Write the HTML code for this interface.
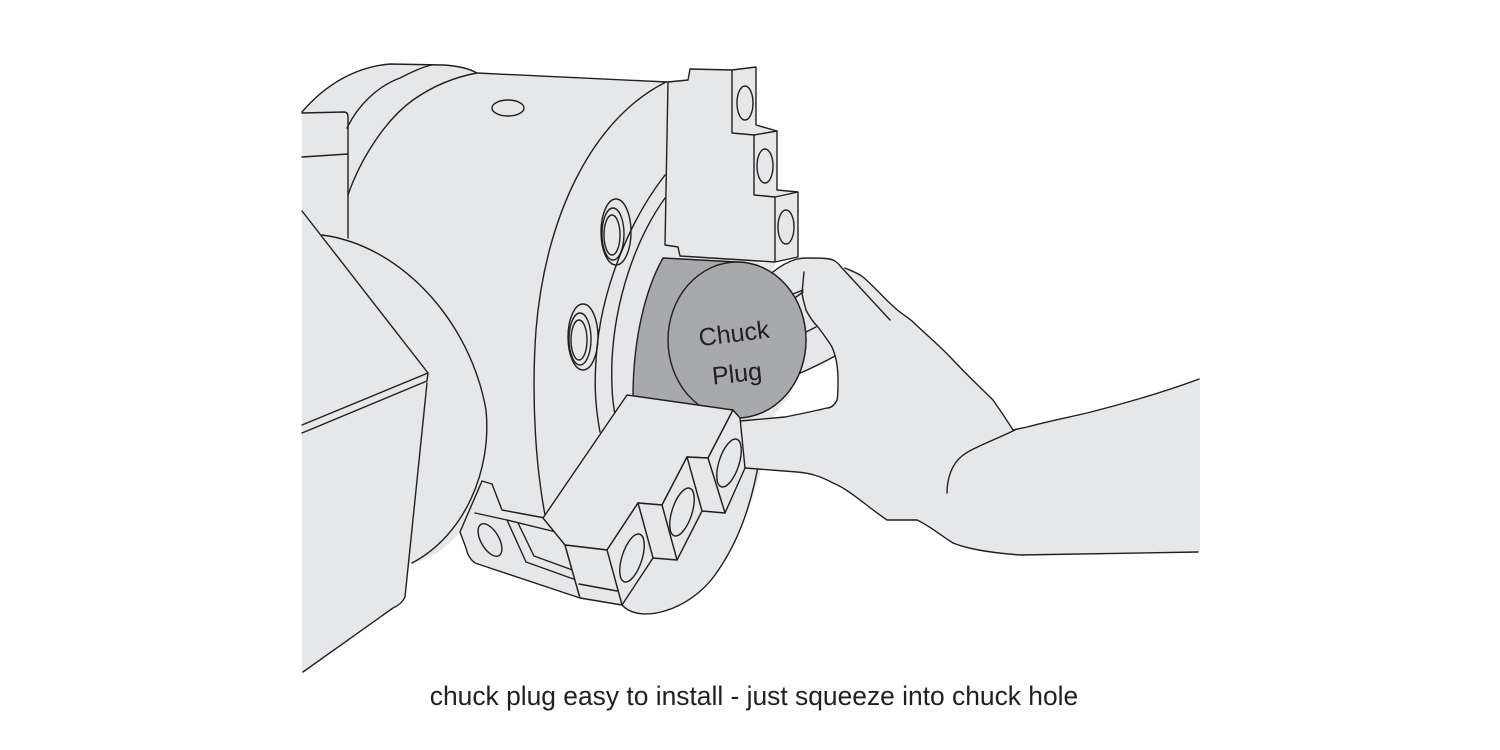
<!DOCTYPE html>
<html>
<head>
<meta charset="utf-8">
<style>
  html,body{margin:0;padding:0;background:#ffffff;}
  svg{display:block;}
  .s{fill:none;stroke:#231f20;stroke-width:1.4;stroke-linejoin:round;stroke-linecap:round;}
  .f{fill:#e6e7e8;stroke:#231f20;stroke-width:1.4;stroke-linejoin:round;}
  .d{fill:#a7a9ac;stroke:#231f20;stroke-width:1.4;stroke-linejoin:round;}
</style>
</head>
<body>
<svg width="1500" height="750" viewBox="0 0 1500 750" xmlns="http://www.w3.org/2000/svg">
  <rect x="0" y="0" width="1500" height="750" fill="#ffffff"/>

  <!-- ===== Machine body fill ===== -->
  <path fill="#e6e7e8" stroke="none" d="M302,112 C325,85 355,67 390,64 L443,65 C460,66 470,69 477,73 L667,82 L680,255 L760,262 L765,455 C752,505 738,543 715,575 C690,610 640,625 622,605 L580,598 L473,562 L460,532 C445,550 428,560 412,563 L409,563 L405,597 Q402,604 393,608 L303,672 L302,672 Z"/>

  <!-- body strokes -->
  <path class="s" d="M302,112 C325,85 355,67 390,64 L443,65 C460,66 470,69 477,73 L667,82"/>
  <path class="s" d="M347,128 C358,105 378,86 400,78 C412,72 422,67 432,65"/>
  <path class="s" d="M348,195 C360,160 385,120 413,100 C430,88 450,78 477,73"/>
  <path class="s" d="M302,113 L344,112 Q348,112 348,117 L348,238"/>
  <path class="s" d="M302,157 L348,154"/>
  <path class="s" d="M322,235 C400,245 470,320 486,410 C492,470 465,535 412,563"/>
  <path class="s" d="M302,211 L428,373"/>
  <path class="s" d="M302,425 L428,373 L427,381 L302,433"/>
  <path class="s" d="M427,383 L405,597 Q402,604 393,608 L303,672"/>
  <ellipse class="s" cx="508" cy="108" rx="16" ry="8"/>

  <!-- chuck front edge -->
  <path class="s" d="M666,82 C590,120 545,220 536,330 C531,400 536,470 546,520"/>
  <!-- flange arcs -->
  <path class="s" d="M665,175 C630,220 600,290 596,360 C594,390 596,410 600,432"/>
  <path class="s" d="M665,198 C635,240 615,300 612,360 C611,390 613,405 616,420"/>
  <path class="s" d="M622,605 C640,625 690,610 715,575 C738,543 752,505 760,455"/>

  <!-- flange holes -->
  <ellipse class="s" cx="616" cy="232" rx="15" ry="33"/>
  <ellipse class="s" cx="613" cy="234" rx="11" ry="26"/>
  <ellipse class="s" cx="612" cy="235" rx="8" ry="20"/>
  <ellipse class="s" cx="583" cy="337" rx="15" ry="33"/>
  <ellipse class="s" cx="580" cy="339" rx="11" ry="26"/>
  <ellipse class="s" cx="579" cy="340" rx="8" ry="20"/>

  <!-- ===== Hand ===== -->
  <path fill="#e6e7e8" stroke="none" d="M745,262 L775,263 L773,272 C778,268 782,265 787,263 C795,259 800,258 807,258 C818,258 828,258 833,260 C838,262 842,266 846,269 C852,271 858,273 863,277 C878,290 890,305 900,312 C905,316 910,319 913,322 C930,338 942,348 953,360 C970,378 985,392 993,400 C1000,410 1008,422 1013,430 L1027,427 C1045,422 1065,418 1087,413 C1130,402 1170,390 1200,379 L1200,552 L1020,555 C995,553 970,550 953,543 C940,535 930,526 917,520 C905,520 895,520 887,520 C865,505 850,490 833,483 C820,476 810,473 797,472 L747,468 L740,300 Z"/>
  <!-- white gap inside curl -->
  <path fill="#ffffff" stroke="none" d="M793,375 L803,372 C815,366 828,360 835,356 C838,365 839,385 837,400 C834,406 830,408 827,408 C815,411 800,414 785,417 L772,418 L790,395 Z"/>
  <!-- hand strokes -->
  <path class="s" d="M766,278 L773,272 C778,268 782,265 787,263 C795,259 800,258 807,258 C818,258 828,258 833,260 C838,262 840,266 842,268 L890,320"/>
  <path class="s" d="M845,268 C852,271 858,273 863,277 C878,290 890,305 900,312 C905,316 910,319 913,322 C930,338 942,348 953,360 C970,378 985,392 993,400 C1000,410 1008,422 1013,430 L1027,427 C1045,422 1065,418 1087,413 C1130,402 1170,390 1199,379"/>
  <path class="s" d="M745,468 L797,472 C810,473 820,476 833,483 C850,490 865,505 887,520 C895,520 905,520 917,520 C930,526 940,535 953,543 C970,550 995,553 1020,555 L1198,552"/>
  <path class="s" d="M1015,430 C990,442 972,448 962,456 C952,464 947,478 947,493"/>
  <!-- curled finger -->
  <path class="s" d="M804,272 L802,293 C803,300 805,306 806,310 C810,318 814,323 818,327 C824,335 829,342 832,347 C836,356 838,368 838,380 C838,390 838,396 837,400 C834,406 830,408 827,408 C815,411 800,414 785,417 L740,421"/>
  <path class="s" d="M788,296 L803,290"/>
  <path class="s" d="M792,300 L803,292"/>
  <path class="s" d="M800,335 L816,327"/>
  <path class="s" d="M798,374 C812,368 826,361 835,356"/>

  <!-- ===== Plug ===== -->
  <path class="d" d="M663,258 L737,262 A69,78 0 0 1 737,418 L640,440 L633,397 C633,340 645,290 663,258 Z"/>
  <ellipse class="d" cx="737" cy="340" rx="69" ry="78"/>
  <text x="734" y="342" font-family="'Liberation Sans', Arial, sans-serif" font-size="25" fill="#231f20" text-anchor="middle" transform="rotate(-7 734 334)">Chuck</text>
  <text x="737" y="382" font-family="'Liberation Sans', Arial, sans-serif" font-size="25" fill="#231f20" text-anchor="middle" transform="rotate(-6 737 374)">Plug</text>

  <!-- ===== Upper jaw ===== -->
  <path class="f" d="M668,82 L688,80 L690,69 L732,70 L756,67 L756,125 L777,131 L777,190 L798,192 L798,257 L775,262 L680,256 L678,247 L665,245 Z"/>
  <path class="s" d="M732,70 L732,133 L754,135 L777,131"/>
  <path class="s" d="M754,135 L754,195 L775,197 L798,192"/>
  <path class="s" d="M775,197 L775,262"/>
  <ellipse class="s" cx="745" cy="103" rx="8" ry="17"/>
  <ellipse class="s" cx="765" cy="166" rx="8" ry="17"/>
  <ellipse class="s" cx="786" cy="227" rx="8" ry="17"/>

  <!-- ===== Bracket ===== -->
  <path class="f" d="M482,481 L492,484 L502,510 L545,518 L565,545 L580,598 L475,563 Q468,558 466,548 L460,532 Z"/>
  <path class="s" d="M475,513 L507,520 L560,533 L565,545"/>
  <path class="s" d="M507,520 L526,562 L579,581"/>
  <path class="s" d="M518,523 L534,556 L578,572"/>
  <ellipse class="s" cx="490" cy="540" rx="9" ry="18" transform="rotate(-30 490 540)"/>

  <!-- ===== Lower jaw ===== -->
  <path class="f" d="M627,395 L733,410 L708,458 L687,457 L662,505 L638,503 L607,550 L565,545 L543,518 Z"/>
  <path class="f" d="M708,458 L733,410 L740,418 L745,468 L725,513 Z"/>
  <path class="f" d="M687,457 L708,458 L725,513 L702,511 Z"/>
  <path class="f" d="M662,505 L687,457 L702,511 L677,560 Z"/>
  <path class="f" d="M638,503 L662,505 L677,560 L653,558 Z"/>
  <path class="f" d="M607,550 L638,503 L653,558 L622,605 Z"/>
  <path class="f" d="M565,545 L607,550 L622,605 L580,598 Z"/>
  <path class="s" d="M579,584 L617,591"/>
  <ellipse class="s" cx="729" cy="463" rx="10" ry="25" transform="rotate(18 729 463)"/>
  <ellipse class="s" cx="682" cy="512" rx="10" ry="25" transform="rotate(18 682 512)"/>
  <ellipse class="s" cx="632" cy="558" rx="10" ry="25" transform="rotate(18 632 558)"/>

  <!-- ===== Caption ===== -->
  <text x="754" y="705" font-family="'Liberation Sans', Arial, sans-serif" font-size="26.4" fill="#231f20" text-anchor="middle">chuck plug easy to install - just squeeze into chuck hole</text>
</svg>
</body>
</html>
